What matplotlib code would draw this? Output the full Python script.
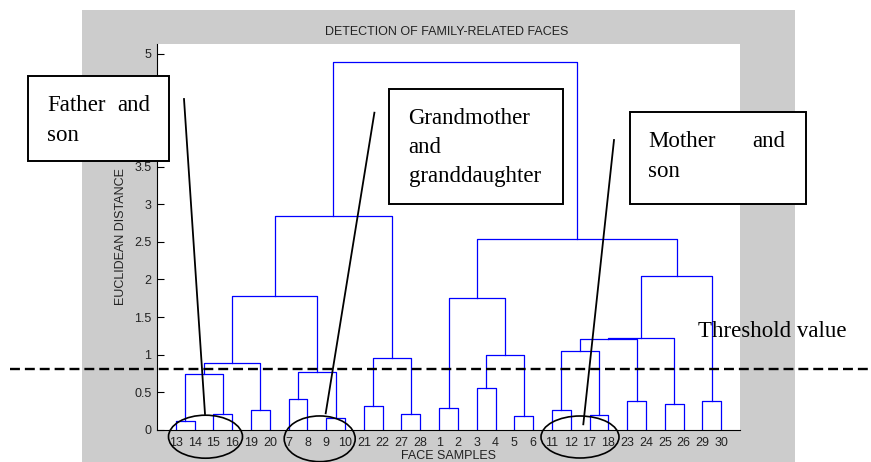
import numpy as np
import matplotlib.pyplot as plt
from matplotlib.patches import Rectangle, Ellipse
from matplotlib.lines import Line2D
from matplotlib.transforms import blended_transform_factory

# leaf order along the x axis
leaf_order = [13, 14, 15, 16, 19, 20, 7, 8, 9, 10, 21, 22, 27, 28,
              1, 2, 3, 4, 5, 6, 11, 12, 17, 18, 23, 24, 25, 26, 29, 30]

# merges (node a, node b, height); leaves are 1-30, merge k becomes node 31+k
merges = [
    (13, 14, 0.124), (15, 16, 0.208), (31, 32, 0.739), (19, 20, 0.270),
    (33, 34, 0.894), (7, 8, 0.407), (9, 10, 0.159), (36, 37, 0.775),
    (35, 38, 1.775), (21, 22, 0.323), (27, 28, 0.208), (40, 41, 0.951),
    (39, 42, 2.845), (1, 2, 0.296), (3, 4, 0.562), (5, 6, 0.182),
    (45, 46, 1.000), (44, 47, 1.760), (11, 12, 0.270), (17, 18, 0.195),
    (49, 50, 1.049), (23, 24, 0.385), (51, 52, 1.212), (25, 26, 0.350),
    (53, 54, 1.222), (29, 30, 0.385), (55, 56, 2.050), (48, 57, 2.540),
    (43, 58, 4.885),
]

threshold = 0.81
y_ticks = np.arange(0, 5.01, 0.5)

W, H = 871, 462
fig = plt.figure(figsize=(W / 100, H / 100), dpi=100)


def fx(x):
    return x / W


def fy(y):
    return 1 - y / H


# grey figure panel like the MATLAB window
fig.add_artist(Rectangle((fx(82), 0), fx(795) - fx(82), fy(10),
                         facecolor='#cccccc', edgecolor='none',
                         transform=fig.transFigure, zorder=-5))

ax = fig.add_axes([fx(157), fy(430), fx(740) - fx(157), fy(44) - fy(430)])

# dendrogram
n = len(leaf_order)
pos = {leaf: i + 1 for i, leaf in enumerate(leaf_order)}
hgt = {leaf: 0.0 for leaf in leaf_order}
for k, (a, b, h) in enumerate(merges):
    ax.plot([pos[a], pos[a], pos[b], pos[b]], [hgt[a], h, h, hgt[b]],
            color='#0000ff', lw=0.9)
    pos[n + 1 + k] = (pos[a] + pos[b]) / 2
    hgt[n + 1 + k] = h

ax.set_xlim(0, n + 1)
ax.set_ylim(0, 1.05 * max(m[2] for m in merges))
ax.set_xticks(range(1, n + 1))
ax.set_xticklabels([str(v) for v in leaf_order])
ax.set_yticks(y_ticks)
ax.set_yticklabels([f'{v:g}' for v in y_ticks])
for s in ['top', 'right']:
    ax.spines[s].set_visible(False)
for s in ['left', 'bottom']:
    ax.spines[s].set_linewidth(0.8)
tick_font = {'family': 'Liberation Sans', 'size': 9}
ax.tick_params(axis='x', length=0, pad=5, labelcolor='#222222')
ax.tick_params(axis='y', direction='in', length=4.8, width=0.8, pad=4,
               labelcolor='#222222')
for lab in ax.get_xticklabels() + ax.get_yticklabels():
    lab.set_fontfamily('Liberation Sans')
    lab.set_fontsize(9)

ax.set_xlabel('FACE SAMPLES', fontdict=tick_font, color='#222222', labelpad=1)
ax.set_ylabel('EUCLIDEAN DISTANCE', fontdict=tick_font, color='#222222')
ax.yaxis.set_label_coords((127 - 157) / (740 - 157), 0.5)
fig.text(fx(447), fy(31.7), 'DETECTION OF FAMILY-RELATED FACES',
         ha='center', va='center', color='#222222', **tick_font)

# threshold line across the whole picture
tr = blended_transform_factory(fig.transFigure, ax.transData)
ax.add_line(Line2D([fx(10), fx(868)], [threshold, threshold], transform=tr,
                   color='black', lw=1.7, dashes=(4.2, 2.1), clip_on=False,
                   zorder=6))

serif = {'family': 'Liberation Serif', 'size': 16.5}
fig.text(fx(698), fy(337), 'Threshold value', ha='left', va='baseline',
         zorder=7, **serif)

# annotation boxes
boxes = [(28.3, 76, 169, 161), (388.7, 89.3, 562.7, 204.3),
         (630, 111.7, 806, 204.3)]
for x0, y0, x1, y1 in boxes:
    fig.add_artist(Rectangle((fx(x0), fy(y1)), fx(x1) - fx(x0), fy(y0) - fy(y1),
                             facecolor='white', edgecolor='black', lw=1.4,
                             transform=fig.transFigure, zorder=5))

box_text = [
    (47.3, 110.7, 'Father', 'left'), (150, 110.7, 'and', 'right'),
    (47.3, 141, 'son', 'left'),
    (408.5, 124, 'Grandmother', 'left'), (408.5, 153, 'and', 'left'),
    (408.5, 182, 'granddaughter', 'left'),
    (648, 147, 'Mother', 'left'), (785, 147, 'and', 'right'),
    (648, 177, 'son', 'left'),
]
for x, y, t, ha in box_text:
    fig.text(fx(x), fy(y), t, ha=ha, va='baseline', zorder=7, **serif)

# pointer lines
pointers = [((184, 99), (205, 414)), ((374.4, 112.7), (325.7, 413.3)),
            ((614, 140), (583.3, 424.3))]
for (xa, ya), (xb, yb) in pointers:
    fig.add_artist(Line2D([fx(xa), fx(xb)], [fy(ya), fy(yb)], color='black',
                          lw=1.3, transform=fig.transFigure, zorder=6))

# ellipses around the related leaves
ellipses = [(205.5, 436.7, 74, 43), (319.7, 438.8, 71, 45.7),
            (580, 437, 78, 42)]
for cx, cy, w, h in ellipses:
    fig.add_artist(Ellipse((fx(cx), fy(cy)), w / W, h / H, facecolor='none',
                           edgecolor='black', lw=1.2,
                           transform=fig.transFigure, zorder=6))

plt.savefig('out.png', dpi=100)
